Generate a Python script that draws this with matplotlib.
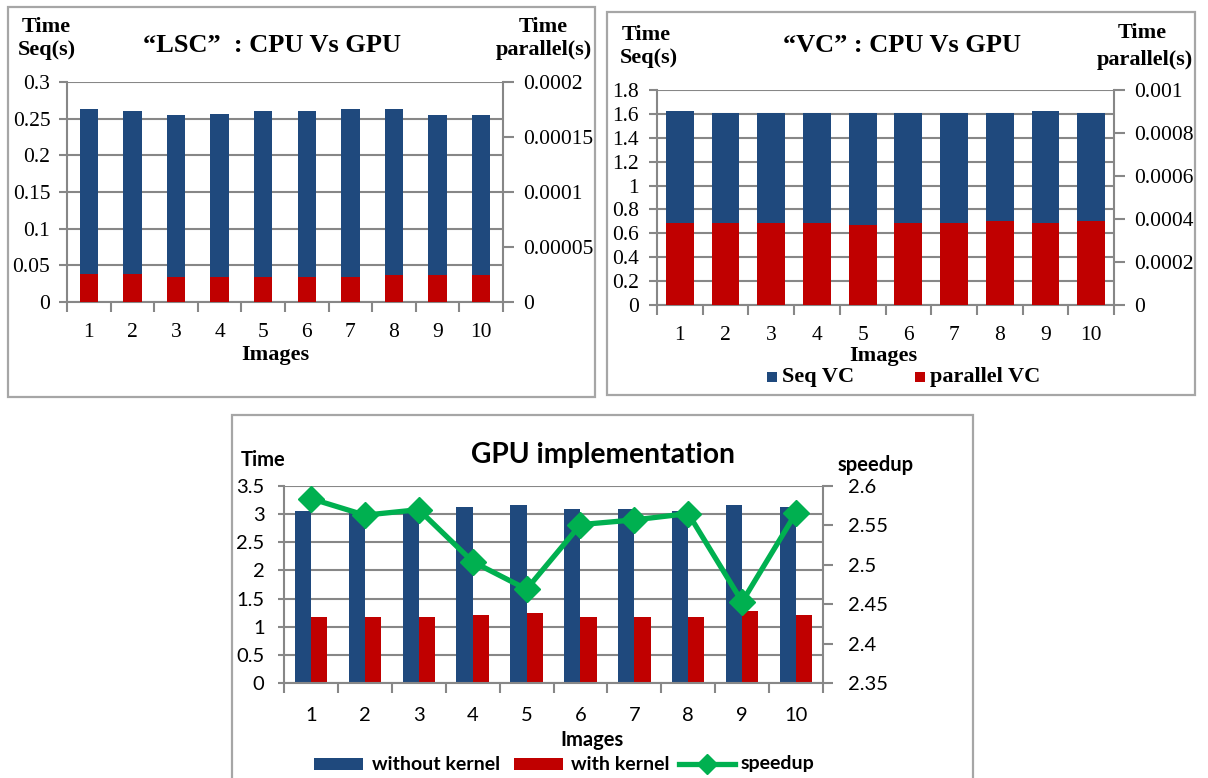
import matplotlib
matplotlib.use('Agg')
import matplotlib.pyplot as plt
from matplotlib.patches import Rectangle
from matplotlib.lines import Line2D
import numpy as np

# ---------------- data ----------------
images = [1, 2, 3, 4, 5, 6, 7, 8, 9, 10]
lsc_seq = [0.2627, 0.260, 0.2545, 0.257, 0.260, 0.260, 0.2627, 0.2627, 0.2545, 0.2545]
lsc_par = [2.58e-5, 2.58e-5, 2.24e-5, 2.24e-5, 2.24e-5, 2.24e-5, 2.24e-5, 2.42e-5, 2.42e-5, 2.42e-5]
vc_seq = [1.627, 1.605, 1.605, 1.605, 1.605, 1.605, 1.605, 1.605, 1.625, 1.605]
vc_par = [0.000383, 0.000383, 0.000383, 0.000383, 0.000374, 0.000383, 0.000383, 0.000393, 0.000383, 0.000393]
gpu_without = [3.05, 3.05, 3.06, 3.12, 3.16, 3.09, 3.09, 3.05, 3.16, 3.12]
gpu_with = [1.175, 1.175, 1.175, 1.21, 1.245, 1.175, 1.175, 1.175, 1.28, 1.21]
speedup = [2.584, 2.563, 2.570, 2.504, 2.469, 2.551, 2.557, 2.565, 2.453, 2.566]

lsc_left_ticks = [0, 0.05, 0.1, 0.15, 0.2, 0.25, 0.3]
lsc_left_labels = ['0', '0.05', '0.1', '0.15', '0.2', '0.25', '0.3']
lsc_right_ticks = [0, 0.00005, 0.0001, 0.00015, 0.0002]
lsc_right_labels = ['0', '0.00005', '0.0001', '0.00015', '0.0002']
vc_left_ticks = [0, 0.2, 0.4, 0.6, 0.8, 1.0, 1.2, 1.4, 1.6, 1.8]
vc_left_labels = ['0', '0.2', '0.4', '0.6', '0.8', '1', '1.2', '1.4', '1.6', '1.8']
vc_right_ticks = [0, 0.0002, 0.0004, 0.0006, 0.0008, 0.001]
vc_right_labels = ['0', '0.0002', '0.0004', '0.0006', '0.0008', '0.001']
gpu_left_ticks = [0, 0.5, 1, 1.5, 2, 2.5, 3, 3.5]
gpu_left_labels = ['0', '0.5', '1', '1.5', '2', '2.5', '3', '3.5']
gpu_right_ticks = [2.35, 2.4, 2.45, 2.5, 2.55, 2.6]
gpu_right_labels = ['2.35', '2.4', '2.45', '2.5', '2.55', '2.6']

# ---------------- style ----------------
W, H = 1208, 778
BLUE = '#1F497D'
RED = '#C00000'
GREEN = '#00B050'
GRID = '#878787'
FRAME = '#A6A6A6'
SERIF = 'Liberation Serif'
SANS = 'Lato'

fig = plt.figure(figsize=(W / 100, H / 100), dpi=100)


def fx(x):
    return x / W


def fy(y):
    return 1 - y / H


def axes_px(l, t, r, b):
    return fig.add_axes([l / W, 1 - b / H, (r - l) / W, (b - t) / H])


def frame(l, t, r, b):
    fig.patches.append(Rectangle((fx(l), fy(b)), (r - l) / W, (b - t) / H,
                                 transform=fig.transFigure, fill=False,
                                 ec=FRAME, lw=1.6))


def ftext(x, y, s, **kw):
    fig.text(fx(x), fy(y), s, ha=kw.pop('ha', 'center'), va=kw.pop('va', 'center'), **kw)


def style_axes(ax, ax2, family, fs, lpad, rpad, xpad, llen=6, rlen=8):
    ax.set_xlim(0.5, 10.5)
    ax.set_xticks(images)
    ax.set_xticklabels([str(i) for i in images], family=family, fontsize=fs)
    ax.set_xticks(np.arange(0.5, 11, 1), minor=True)
    ax.tick_params(axis='x', which='major', length=0, pad=xpad)
    ax.tick_params(axis='x', which='minor', length=7, width=1.5, color=GRID, direction='out')
    ax.tick_params(axis='y', length=llen, width=1.5, color=GRID, direction='out', pad=lpad)
    ax2.tick_params(axis='y', length=rlen, width=1.5, color=GRID, direction='out', pad=rpad)
    ax.set_axisbelow(True)
    ax.yaxis.grid(True, color=GRID, lw=1.5)
    for s in ['top', 'right']:
        ax.spines[s].set_visible(False)
    for s in ['top', 'left', 'bottom']:
        ax2.spines[s].set_visible(False)
    for s in ['left', 'bottom']:
        ax.spines[s].set_color(GRID)
        ax.spines[s].set_linewidth(1.5)
    ax2.spines['right'].set_color(GRID)
    ax2.spines['right'].set_linewidth(1.5)


x = np.array(images)
TFS = 16  # serif axis-title size

# ================= Panel 1: LSC =================
frame(8, 7, 595, 397)
ax1 = axes_px(67, 82, 503, 302)
ax1b = ax1.twinx()
ax1.bar(x, lsc_seq, width=0.42, color=BLUE, zorder=2)
ax1b.bar(x, lsc_par, width=0.42, color=RED, zorder=2)
ax1.set_ylim(0, 0.3)
ax1b.set_ylim(0, 0.0002)
ax1.set_yticks(lsc_left_ticks)
ax1.set_yticklabels(lsc_left_labels, family=SERIF, fontsize=15.5)
ax1b.set_yticks(lsc_right_ticks)
ax1b.set_yticklabels(lsc_right_labels, family=SERIF, fontsize=15.5)
style_axes(ax1, ax1b, SERIF, 15.5, lpad=6, rpad=6.5, xpad=15)
ftext(46, 27, 'Time', family=SERIF, fontsize=TFS, fontweight='bold')
ftext(47, 50, 'Seq(s)', family=SERIF, fontsize=TFS, fontweight='bold')
ftext(543, 27, 'Time', family=SERIF, fontsize=TFS, fontweight='bold')
ftext(592, 50, 'parallel(s)', family=SERIF, fontsize=TFS, fontweight='bold', ha='right')
ftext(272, 45, '\u201cLSC\u201d  : CPU Vs GPU', family=SERIF, fontsize=19, fontweight='bold')
ftext(275, 355, 'Images', family=SERIF, fontsize=16, fontweight='bold')

# ================= Panel 2: VC =================
frame(607, 12, 1195, 395)
ax2 = axes_px(657, 90, 1114, 305)
ax2b = ax2.twinx()
ax2.bar(x, vc_seq, width=0.61, color=BLUE, zorder=2)
ax2b.bar(x, vc_par, width=0.61, color=RED, zorder=2)
ax2.set_ylim(0, 1.8)
ax2b.set_ylim(0, 0.001)
ax2.set_yticks(vc_left_ticks)
ax2.set_yticklabels(vc_left_labels, family=SERIF, fontsize=15.5)
ax2b.set_yticks(vc_right_ticks)
ax2b.set_yticklabels(vc_right_labels, family=SERIF, fontsize=15.5)
style_axes(ax2, ax2b, SERIF, 15.5, lpad=7, rpad=6.5, xpad=15)
ftext(646, 35, 'Time', family=SERIF, fontsize=TFS, fontweight='bold')
ftext(649, 58, 'Seq(s)', family=SERIF, fontsize=TFS, fontweight='bold')
ftext(1142, 33, 'Time', family=SERIF, fontsize=TFS, fontweight='bold')
ftext(1193, 60, 'parallel(s)', family=SERIF, fontsize=TFS, fontweight='bold', ha='right')
ftext(902, 45, '\u201cVC\u201d : CPU Vs GPU', family=SERIF, fontsize=19, fontweight='bold')
ftext(883, 356, 'Images', family=SERIF, fontsize=16, fontweight='bold')
# legend
fig.patches.append(Rectangle((fx(767), fy(382)), 10 / W, 10 / H, transform=fig.transFigure,
                             fc=BLUE, ec='none'))
ftext(782, 377, 'Seq VC', family=SERIF, fontsize=16, fontweight='bold', ha='left')
fig.patches.append(Rectangle((fx(915), fy(382)), 10 / W, 10 / H, transform=fig.transFigure,
                             fc=RED, ec='none'))
ftext(930, 377, 'parallel VC', family=SERIF, fontsize=16, fontweight='bold', ha='left')

# ================= Panel 3: GPU =================
SFS = 14.5
frame(232, 415, 973, 800)
ax3 = axes_px(284, 486, 823, 683)
ax3b = ax3.twinx()
bw = 0.30
ax3.bar(x - bw / 2, gpu_without, width=bw, color=BLUE, zorder=2)
ax3.bar(x + bw / 2, gpu_with, width=bw, color=RED, zorder=2)
ax3b.plot(x, speedup, color=GREEN, lw=3.8, marker='D', markersize=13, zorder=3)
ax3.set_ylim(0, 3.5)
ax3b.set_ylim(2.35, 2.6)
ax3.set_yticks(gpu_left_ticks)
ax3.set_yticklabels(gpu_left_labels, family=SANS, fontsize=SFS)
ax3b.set_yticks(gpu_right_ticks)
ax3b.set_yticklabels(gpu_right_labels, family=SANS, fontsize=SFS)
style_axes(ax3, ax3b, SANS, SFS, lpad=10, rpad=11, xpad=17, llen=4, rlen=7)
ftext(603, 455, 'GPU implementation', family=SANS, fontsize=20.3, fontweight='bold')
ftext(263, 460, 'Time', family=SANS, fontsize=14.5, fontweight='bold')
ftext(876, 465, 'speedup', family=SANS, fontsize=14.5, fontweight='bold')
ftext(592, 740, 'Images', family=SANS, fontsize=14.5, fontweight='bold')
# legend
fig.patches.append(Rectangle((fx(314), fy(770)), 49 / W, 12 / H, transform=fig.transFigure,
                             fc=BLUE, ec='none'))
ftext(372, 764, 'without kernel', family=SANS, fontsize=14, fontweight='bold', ha='left')
fig.patches.append(Rectangle((fx(514), fy(770)), 49 / W, 12 / H, transform=fig.transFigure,
                             fc=RED, ec='none'))
ftext(571, 764, 'with kernel', family=SANS, fontsize=14, fontweight='bold', ha='left')
fig.lines.append(Line2D([fx(679), fx(735)], [fy(764), fy(764)], transform=fig.transFigure,
                        color=GREEN, lw=3.8))
fig.lines.append(Line2D([fx(707)], [fy(764)], transform=fig.transFigure,
                        color=GREEN, marker='D', markersize=10, lw=0))
ftext(741, 764, 'speedup', family=SANS, fontsize=14, fontweight='bold', ha='left')

fig.savefig('out.png', dpi=100)
